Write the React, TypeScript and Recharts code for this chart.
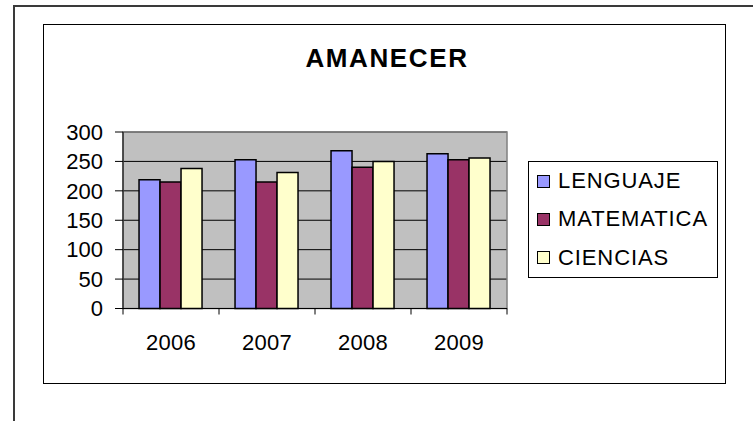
import React from 'react';
import { BarChart, Bar, XAxis, YAxis, CartesianGrid, Legend, ReferenceArea } from 'recharts';

const years = ['2006', '2007', '2008', '2009'];
const seriesNames = ['LENGUAJE', 'MATEMATICA', 'CIENCIAS'];
const lenguaje = [219, 253, 268, 263];
const matematica = [215, 215, 240, 253];
const ciencias = [238, 231, 250, 256];
const yTicks = [0, 50, 100, 150, 200, 250, 300];

const data = years.map((year, i) => ({
  year,
  LENGUAJE: lenguaje[i],
  MATEMATICA: matematica[i],
  CIENCIAS: ciencias[i],
}));

const FONT = '"Liberation Sans", Arial, sans-serif';
const X_TICK_SIZE = 6;
const X_TICK_MARGIN = 20;

const YearTick = (props: any) => {
  const { x, y, payload, index, visibleTicksCount } = props;
  const half = payload && payload.offset ? payload.offset : 48;
  const axisY = y - X_TICK_SIZE - X_TICK_MARGIN;
  const last = index === (visibleTicksCount ?? years.length) - 1;
  return (
    <g>
      <line x1={x - half} x2={x - half} y1={axisY} y2={axisY + X_TICK_SIZE} stroke="#000" />
      {last && <line x1={x + half} x2={x + half} y1={axisY} y2={axisY + X_TICK_SIZE} stroke="#000" />}
      <text x={x} y={y} dy="0.71em" textAnchor="middle" fontSize={22} fontFamily={FONT} fill="#000" letterSpacing={0.3}>
        {payload.value}
      </text>
    </g>
  );
};

const LegendBox = ({ payload }: any) => {
  const items = [...(payload || [])].sort(
    (a: any, b: any) => seriesNames.indexOf(a.value) - seriesNames.indexOf(b.value)
  );
  return (
    <div
      style={{
        width: 190,
        height: 117,
        boxSizing: 'border-box',
        border: '1px solid #000',
        background: '#fff',
        fontFamily: FONT,
      }}
    >
      {items.map((p: any) => (
        <div key={p.value} style={{ display: 'flex', alignItems: 'center', height: 38.3 }}>
          <span
            style={{
              display: 'inline-block',
              width: 13,
              height: 13,
              boxSizing: 'border-box',
              border: '1.5px solid #000',
              background: p.color,
              marginLeft: 8,
              marginRight: 8,
            }}
          />
          <span style={{ fontSize: 22, letterSpacing: 0.9, color: '#000', lineHeight: '22px' }}>{p.value}</span>
        </div>
      ))}
    </div>
  );
};

export default function App() {
  return (
    <div style={{ position: 'absolute', left: 0, top: 0, width: 753, height: 421, background: '#fff', overflow: 'hidden' }}>
      {/* outer frame */}
      <div
        style={{
          position: 'absolute',
          left: 13,
          top: 5,
          width: 760,
          height: 440,
          borderLeft: '2px solid #3a3a3a',
          borderTop: '2px solid #3a3a3a',
        }}
      />
      {/* chart area frame */}
      <div
        style={{
          position: 'absolute',
          left: 43,
          top: 24,
          width: 683,
          height: 360,
          boxSizing: 'border-box',
          border: '1.5px solid #000',
        }}
      />
      <div
        style={{
          position: 'absolute',
          left: 287,
          top: 44.6,
          width: 200,
          textAlign: 'center',
          fontFamily: FONT,
          fontWeight: 'bold',
          fontSize: 26,
          lineHeight: '26px',
          letterSpacing: 1.6,
          color: '#000',
        }}
      >
        AMANECER
      </div>
      <div style={{ position: 'absolute', left: 0, top: 0 }}>
        <BarChart
          width={753}
          height={421}
          data={data}
          margin={{ top: 132, right: 56, bottom: 72.5, left: 63 }}
          barGap={0}
          barCategoryGap="16.7%"
        >
          <CartesianGrid vertical={false} stroke="#000" fill="#C0C0C0" fillOpacity={1} />
          <ReferenceArea y1={0} y2={300} fill="none" stroke="#808080" strokeWidth={1.5} ifOverflow="visible" />
          <XAxis
            dataKey="year"
            axisLine={{ stroke: '#000' }}
            tickLine={false}
            tickSize={X_TICK_SIZE}
            tickMargin={X_TICK_MARGIN}
            height={40}
            tick={<YearTick />}
            interval={0}
          />
          <YAxis
            domain={[0, 300]}
            ticks={yTicks}
            interval={0}
            width={60}
            axisLine={{ stroke: '#000' }}
            tickLine={{ stroke: '#000' }}
            tickSize={8}
            tickMargin={12}
            tick={{ fontSize: 22, fill: '#000', fontFamily: FONT }}
          />
          <Legend
            layout="vertical"
            align="right"
            verticalAlign="middle"
            content={<LegendBox />}
            wrapperStyle={{ left: 528, top: 161, right: 'auto', width: 190 }}
          />
          <Bar dataKey="LENGUAJE" fill="#9999FF" stroke="#000" strokeWidth={1.5} isAnimationActive={false} />
          <Bar dataKey="MATEMATICA" fill="#993366" stroke="#000" strokeWidth={1.5} isAnimationActive={false} />
          <Bar dataKey="CIENCIAS" fill="#FFFFCC" stroke="#000" strokeWidth={1.5} isAnimationActive={false} />
        </BarChart>
      </div>
    </div>
  );
}
